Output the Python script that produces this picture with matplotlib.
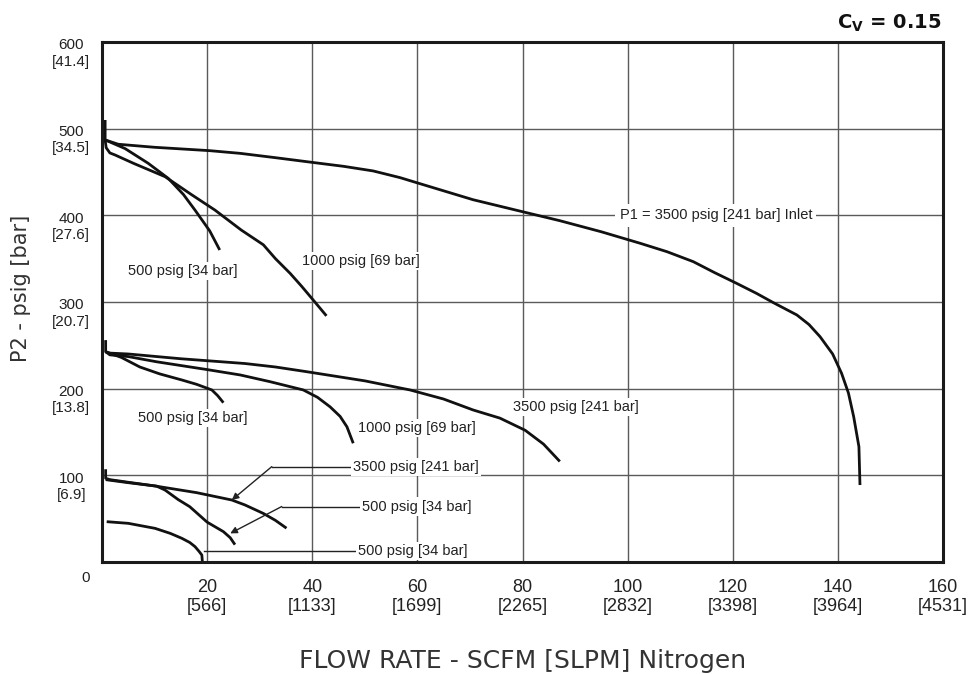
import matplotlib
matplotlib.use('Agg')
from matplotlib import pyplot as plt
from matplotlib import transforms

# curve data: flow [SCFM], outlet pressure P2 [psig]
top_3500_x = [0.6, 0.6, 3.1, 10, 20.5, 26.3, 33, 40.5, 46, 51.6, 56.7, 60.5, 70.6, 80.8, 87.1, 95, 102.4, 107.5, 112.5, 116.5,
              120.7, 124.5, 127.7, 132.2, 134.5, 136.6, 139, 140.7, 142, 143, 144, 144.2]
top_3500_y = [510, 487, 482, 478.5, 474.6, 471.5, 466.5, 460.7, 456.5, 451.2, 443.5, 436.5, 418, 403, 393.8, 381, 367.7, 358, 346.5, 334,
              321.6, 310, 299.3, 285, 274, 260, 240, 217.7, 195, 167.7, 133, 88.8]
top_1000_x = [0.6, 0.8, 1.5, 2.5, 6, 12, 17, 21.5, 26.5, 30.7, 33, 35.8, 38, 40.5, 42.7]
top_1000_y = [487, 478, 472, 469.6, 460, 444.6, 424, 406, 383, 366, 350, 333, 318, 300, 284]
top_500_x = [0.6, 4.4, 8.8, 12.6, 15.5, 17.7, 20.5, 22.4]
top_500_y = [487, 477, 460, 442.7, 424, 406, 382, 360]

mid_3500_x = [0.7, 0.7, 1.5, 5, 15, 27.2, 33, 38.9, 50, 58.6, 65, 70.6, 75.7, 80.5, 84, 87.1]
mid_3500_y = [256, 242.6, 241, 240, 234.5, 229, 225, 219.6, 209, 198.5, 188, 175.4, 166, 152, 136, 116]
mid_1000_x = [0.7, 1.5, 5, 10.4, 20, 26.3, 32, 38.3, 41, 43.4, 45.3, 46.6, 47.8]
mid_1000_y = [242.6, 239, 237, 231, 222, 215.8, 208, 198.5, 190, 179, 168, 156, 137]
mid_500_x = [0.7, 3.7, 7.2, 11, 15.2, 18, 20.9, 22, 23.1]
mid_500_y = [242.6, 236, 225, 217, 210, 205, 198.5, 192, 183.8]

low_3500_x = [0.7, 0.7, 1.5, 5, 10.1, 18, 24.7, 27.2, 30.7, 33, 35.1]
low_3500_y = [107, 96.6, 95, 92, 87.7, 80, 71.5, 65.8, 56, 48, 39]
low_500a_x = [0.7, 5, 10.4, 12, 14.5, 16.7, 20, 23.1, 24.4, 25.3]
low_500a_y = [95, 91.5, 87.5, 83, 72, 63.8, 46, 35, 28, 20]
low_500b_x = [0.9, 5, 10.1, 13, 15.2, 16.7, 17.7, 18.5, 19, 19.1]
low_500b_y = [46.5, 44.6, 38.8, 33, 27.3, 22.5, 17.7, 12, 8, 0.3]

x_ticks = [20, 40, 60, 80, 100, 120, 140, 160]
x_labels = ['20\n[566]', '40\n[1133]', '60\n[1699]', '80\n[2265]', '100\n[2832]',
            '120\n[3398]', '140\n[3964]', '160\n[4531]']
y_ticks = [0, 100, 200, 300, 400, 500, 600]
y_labels = ['0', '100\n[6.9]', '200\n[13.8]', '300\n[20.7]', '400\n[27.6]',
            '500\n[34.5]', '600\n[41.4]']

# plain curve labels: (text, x, y)
labels = [('500 psig [34 bar]', 5, 336),
          ('1000 psig [69 bar]', 38, 347),
          ('500 psig [34 bar]', 6.8, 166),
          ('1000 psig [69 bar]', 48.7, 155),
          ('3500 psig [241 bar]', 78.2, 179)]

# arrow labels: (text, text x, text y, elbow x, tip x, tip y)
arrows = [('3500 psig [241 bar]', 47.8, 110, 32.3, 24.7, 71.5),
          ('500 psig [34 bar]', 49.4, 64, 34.2, 24.4, 33),
          ('500 psig [34 bar]', 48.7, 13, 19.4, 19.4, 13)]

fig = plt.figure(figsize=(9.73, 6.74), dpi=100)
ax = fig.add_axes([0.1048, 0.1662, 0.8644, 0.7715])

ax.set_xlim(0, 160)
ax.set_ylim(0, 600)
ax.set_xticks(x_ticks)
ax.set_xticklabels(x_labels, family=['Liberation Sans Narrow', 'Liberation Sans'], fontsize=13, color='#222222')
ax.set_yticks(y_ticks)
ax.set_yticklabels(y_labels, family='Liberation Sans', fontsize=11, color='#222222')
ax.tick_params(length=0)
ax.tick_params(axis='x', pad=12)
ax.tick_params(axis='y', pad=12)
for lab in ax.get_yticklabels():
    lab.set_horizontalalignment('center')
    lab.set_transform(lab.get_transform() + transforms.ScaledTranslation(-0.14, -0.09, fig.dpi_scale_trans))
ax.get_yticklabels()[0].set_transform(ax.get_yticklabels()[0].get_transform() + transforms.ScaledTranslation(0.14, -0.06, fig.dpi_scale_trans))

ax.grid(True, color='#5a5a5a', linewidth=1.0)
ax.set_axisbelow(True)
for s in ax.spines.values():
    s.set_linewidth(2.2)
    s.set_color('#1a1a1a')

curves = [(top_3500_x, top_3500_y), (top_1000_x, top_1000_y), (top_500_x, top_500_y),
          (mid_3500_x, mid_3500_y), (mid_1000_x, mid_1000_y), (mid_500_x, mid_500_y),
          (low_3500_x, low_3500_y), (low_500a_x, low_500a_y), (low_500b_x, low_500b_y)]
for cx, cy in curves:
    ax.plot(cx, cy, color='#111111', linewidth=2, solid_capstyle='butt', solid_joinstyle='round')

box = dict(facecolor='white', edgecolor='none', pad=1.5)
for t, tx, ty in labels:
    ax.text(tx, ty, t, fontsize=10.5, family='Liberation Sans', va='center', ha='left', color='#222222', bbox=box)

# inlet label sitting on the 400 grid line
ax.text(116.8, 400, 'P1 = 3500 psig [241 bar] Inlet', fontsize=10.5, family='Liberation Sans',
        va='center', ha='center', color='#222222', bbox=dict(facecolor='white', edgecolor='none', pad=3))

for t, tx, ty, ex, px, py in arrows:
    ax.plot([ex, tx], [ty, ty], color='#222222', linewidth=1)
    ax.annotate('', xy=(px, py), xytext=(ex, ty),
                arrowprops=dict(arrowstyle='-|>', color='#222222', lw=1, mutation_scale=10, shrinkA=0, shrinkB=0))
    ax.text(tx, ty, t, fontsize=10.5, family='Liberation Sans', va='center', ha='left', color='#222222', bbox=box)

ax.set_xlabel('FLOW RATE - SCFM [SLPM] Nitrogen', fontsize=18, color='#333333')
ax.xaxis.set_label_coords(0.5006, -0.19)
ax.set_ylabel('P2 - psig [bar]', fontsize=15, color='#333333')
ax.yaxis.set_label_coords(-0.0963, 0.527)
ax.xaxis.label.set_verticalalignment('center')
ax.yaxis.label.set_verticalalignment('center')

fig.text(0.967, 0.965, r'$\mathbf{C_V}$ = 0.15', fontsize=14, fontweight='bold', ha='right', va='center', color='#111111')

fig.savefig('out.png', dpi=100)
